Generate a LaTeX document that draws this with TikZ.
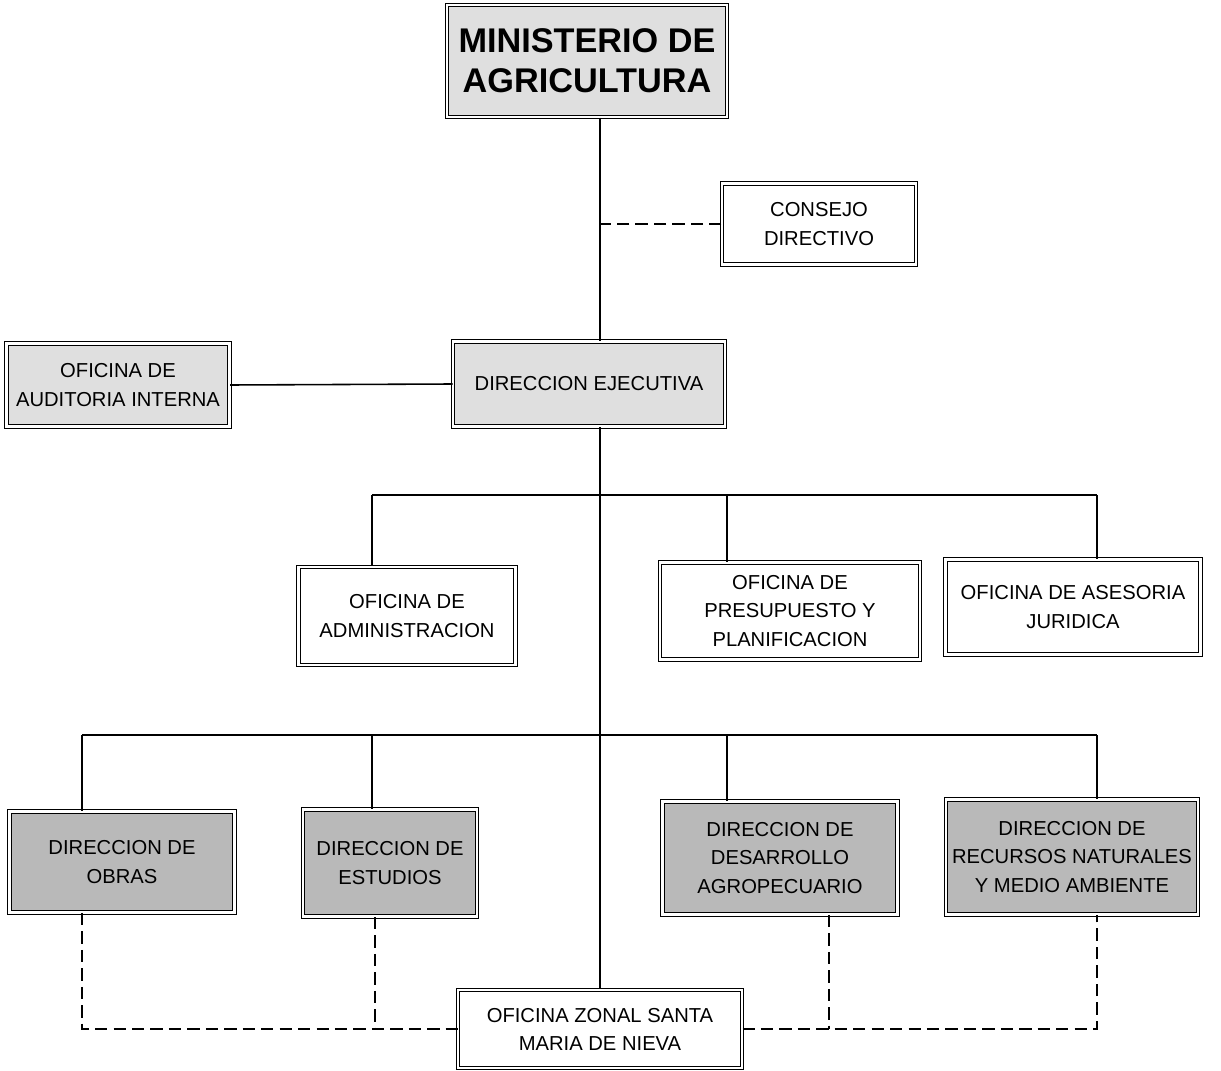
\documentclass[tikz,border=0pt]{standalone}
\usepackage{fontspec}
\setmainfont{Liberation Sans}
\usetikzlibrary{positioning,calc}
\tikzset{
  obox/.style={rectangle,draw=black,double,double distance=1.3pt,line width=0.6pt,
               fill=white,align=center,inner sep=2pt,
               font=\fontsize{11.5}{16}\selectfont},
  lbox/.style={obox,fill=gray!25},
  gbox/.style={obox,fill=gray!55},
  tedge/.style={line width=0.9pt},
  dedge/.style={line width=1.4pt,dash pattern=on 7pt off 3.5pt},
}

\begin{document}
\begin{tikzpicture}[x=0.02cm,y=-0.02cm]
  \useasboundingbox (0,0) rectangle (1221,1071);
  \node[lbox,minimum width=5.6cm,minimum height=2.24cm,
        font=\fontsize{19.5}{23}\selectfont\bfseries] (mag) at (587,61) {MINISTERIO DE\\AGRICULTURA};
  \node[obox,minimum width=3.88cm,minimum height=1.62cm] (consejo) at (819,224) {CONSEJO\\DIRECTIVO};
  \node[lbox,minimum width=5.44cm,minimum height=1.7cm] (ejec) at (589,384) {DIRECCION EJECUTIVA};
  \node[lbox,minimum width=4.46cm,minimum height=1.66cm] (audit) at (118,385) {OFICINA DE\\AUDITORIA INTERNA};
  \node[obox,minimum width=4.34cm,minimum height=1.96cm] (admin) at (407,616) {OFICINA DE\\ADMINISTRACION};
  \node[obox,minimum width=5.2cm,minimum height=1.94cm] (presup) at (790,611) {OFICINA DE\\PRESUPUESTO Y\\PLANIFICACION};
  \node[obox,minimum width=5.1cm,minimum height=1.9cm] (juridica) at (1073,607) {OFICINA DE ASESORIA\\JURIDICA};
  \node[gbox,minimum width=4.5cm,minimum height=2.02cm] (obras) at (122,862) {DIRECCION DE\\OBRAS};
  \node[gbox,minimum width=3.48cm,minimum height=2.14cm] (estudios) at (390,863) {DIRECCION DE\\ESTUDIOS};
  \node[gbox,minimum width=4.7cm,minimum height=2.26cm] (desarr) at (780,858) {DIRECCION DE\\DESARROLLO\\AGROPECUARIO};
  \node[gbox,minimum width=5.04cm,minimum height=2.3cm] (recnat) at (1072,857) {DIRECCION DE\\RECURSOS NATURALES\\Y MEDIO AMBIENTE};
  \node[obox,minimum width=5.68cm,minimum height=1.56cm] (zonal) at (600,1029) {OFICINA ZONAL SANTA\\MARIA DE NIEVA};

  \coordinate (spine) at (600,0);
  \coordinate (b1) at (0,495);
  \coordinate (b2) at (0,735);
  \coordinate (d0) at (82,0);
  \coordinate (d1) at (372,0);
  \coordinate (d2) at (727,0);
  \coordinate (d3) at (1097,0);
  \coordinate (d4) at (829,0);
  \coordinate (d5) at (375,0);

  \draw[tedge] (mag.south -| spine) -- (ejec.north -| spine);
  \draw[tedge] (ejec.south -| spine) -- (zonal.north -| spine);
  \draw[tedge] (audit.east) -- (ejec.west);
  \draw[dedge] (consejo.west) -- (consejo.west -| spine);

  \draw[tedge] (d1 |- b1) -- (d3 |- b1);
  \foreach \d/\n in {d1/admin,d2/presup,d3/juridica}
    \draw[tedge] (\d |- b1) -- (\d |- \n.north);
  \draw[tedge] (d0 |- b2) -- (d3 |- b2);
  \foreach \d/\n in {d0/obras,d1/estudios,d2/desarr,d3/recnat}
    \draw[tedge] (\d |- b2) -- (\d |- \n.north);

  \draw[dedge] (d0 |- obras.south) |- (zonal.west);
  \draw[dedge] (d5 |- estudios.south) -- (d5 |- zonal.west);
  \draw[dedge] (zonal.east) -| (d3 |- recnat.south);
  \draw[dedge] (d4 |- desarr.south) -- (d4 |- zonal.east);
\end{tikzpicture}
\end{document}
